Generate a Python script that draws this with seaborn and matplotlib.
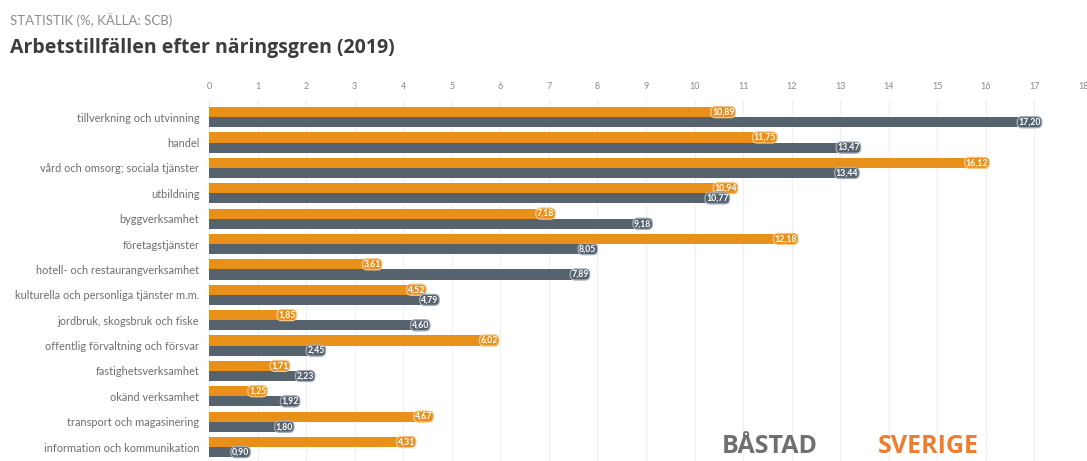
import matplotlib
matplotlib.use("Agg")
import matplotlib.pyplot as plt
import seaborn as sns
import pandas as pd

categories = [
    "tillverkning och utvinning",
    "handel",
    "vård och omsorg; sociala tjänster",
    "utbildning",
    "byggverksamhet",
    "företagstjänster",
    "hotell- och restaurangverksamhet",
    "kulturella och personliga tjänster m.m.",
    "jordbruk, skogsbruk och fiske",
    "offentlig förvaltning och försvar",
    "fastighetsverksamhet",
    "okänd verksamhet",
    "transport och magasinering",
    "information och kommunikation",
]
sverige = [10.89, 11.75, 16.12, 10.94, 7.18, 12.18, 3.61, 4.52, 1.85, 6.02, 1.71, 1.25, 4.67, 4.31]
bastad = [17.20, 13.47, 13.44, 10.77, 9.18, 8.05, 7.89, 4.79, 4.60, 2.45, 2.23, 1.92, 1.80, 0.90]
series_names = ["SVERIGE", "BÅSTAD"]
x_ticks = list(range(0, 19))

ORANGE = "#E8901A"
GREY = "#56636F"

df = pd.DataFrame({
    "kategori": categories * 2,
    "värde": sverige + bastad,
    "serie": [series_names[0]] * len(categories) + [series_names[1]] * len(categories),
})

sns.set_theme(style="white")
plt.rcParams["font.family"] = ["Lato", "DejaVu Sans"]

fig = plt.figure(figsize=(10.87, 4.61), dpi=100)
ax = fig.add_axes([209 / 1087, 0.0, (1083 - 209) / 1087, (461 - 100) / 461])

sns.barplot(data=df, y="kategori", x="värde", hue="serie", order=categories,
            hue_order=series_names, palette=[ORANGE, GREY], orient="h",
            width=0.8, gap=0.0, ax=ax, legend=False, saturation=1)

# value labels as rounded caps at the bar ends
for container, color, edge in zip(ax.containers, [ORANGE, GREY], ["#F7C889", "#A4AEB8"]):
    for rect in container:
        w = rect.get_width()
        rect.set_edgecolor("none")
        rect.set_width(max(w - 0.15, 0.0))
        yc = rect.get_y() + rect.get_height() / 2
        txt = f"{w:.2f}".replace(".", ",")
        ax.text(w - 0.07, yc, txt, ha="right", va="center", fontsize=6.3,
                fontweight="bold", color="white",
                bbox=dict(boxstyle="round,pad=0.12,rounding_size=0.55", fc=color,
                          ec=edge, lw=0.9))

ax.set_xlim(0, 18)
ax.set_ylim(13.55, -0.676)
ax.set_xticks(x_ticks)
ax.xaxis.tick_top()
ax.tick_params(axis="x", labelsize=6.5, colors="#8A8A8A", length=0, pad=6.5)
ax.tick_params(axis="y", labelsize=7.9, colors="#6E6E6E", length=0, pad=7)
ax.set_xlabel("")
ax.set_ylabel("")
ax.grid(axis="x", color="#F0F0F0", lw=0.8)
ax.set_axisbelow(True)
for s in ax.spines.values():
    s.set_visible(False)

fig.text(10 / 1087, 1 - 20 / 461, "STATISTIK (%, KÄLLA: SCB)", fontsize=9.5,
         color="#8C8C8C", va="center", ha="left")
fig.text(10 / 1087, 1 - 48 / 461, "Arbetstillfällen efter näringsgren (2019)",
         fontsize=14, fontweight="bold", color="#3C3C3C", va="center", ha="left",
         family=["Open Sans", "DejaVu Sans"])

fig.text(722 / 1087, 1 - 446 / 461, "BÅSTAD", fontsize=18, fontweight="bold",
         color="#707070", va="center", ha="left", family=["Open Sans", "DejaVu Sans"])
fig.text(878 / 1087, 1 - 446 / 461, "SVERIGE", fontsize=18, fontweight="bold",
         color="#ED7D31", va="center", ha="left", family=["Open Sans", "DejaVu Sans"])

fig.savefig("out.png", dpi=100)
